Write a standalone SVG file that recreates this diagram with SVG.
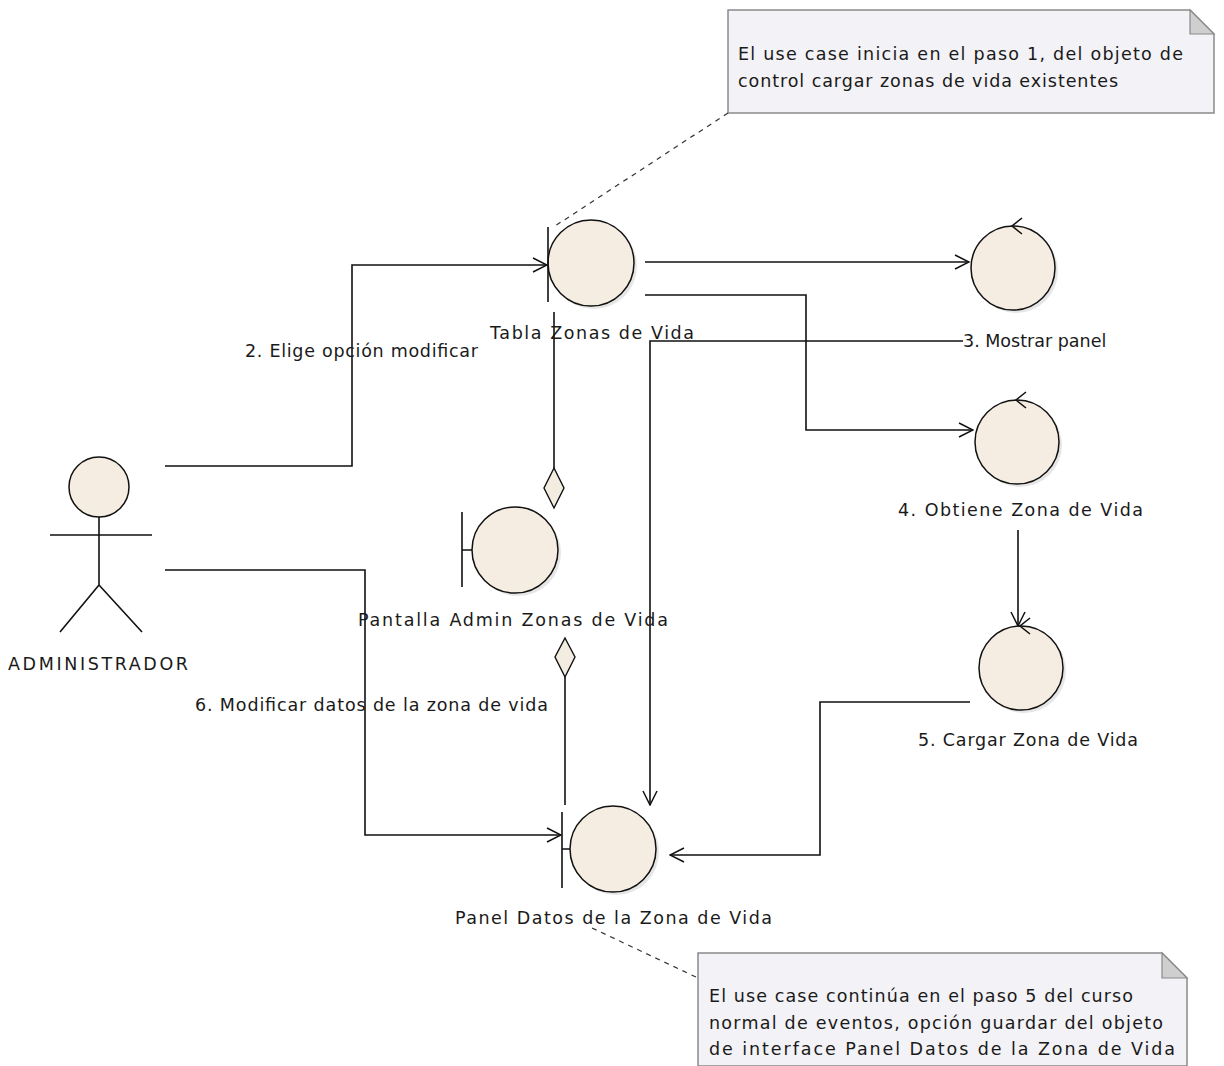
<svg xmlns="http://www.w3.org/2000/svg" width="1224" height="1066" viewBox="0 0 1224 1066">
  <style>
    text { font-family: "DejaVu Sans", "Liberation Sans", sans-serif; font-size: 17.5px; fill: #1a1a1a; }
    .obj { fill: #f6ede2; stroke: #111; stroke-width: 1.5; }
    .shadow { fill: #d6d6d6; opacity: 0.6; }
    .ln { fill: none; stroke: #111; stroke-width: 1.6; }
    .note { fill: #f3f2f6; stroke: #8a8a8a; stroke-width: 1.5; }
    .fold { fill: #cfcfcf; stroke: #8a8a8a; stroke-width: 1.2; }
    .dash { fill: none; stroke: #333; stroke-width: 1.2; stroke-dasharray: 5 5; }
    .agg { fill: #f3ece0; stroke: #111; stroke-width: 1.4; }
  </style>
  <defs>
    <marker id="open" viewBox="0 0 16 16" refX="15" refY="8" markerWidth="16" markerHeight="16" markerUnits="userSpaceOnUse" orient="auto">
      <path d="M1 1 L15 8 L1 15" fill="none" stroke="#111" stroke-width="1.5"/>
    </marker>
  </defs>

  <rect width="1224" height="1066" fill="#ffffff"/>

  <!-- notes -->
  <g id="note-inicio">
    <path class="note" d="M728 10 H1190 L1214 34 V113 H728 Z"/>
    <path class="fold" d="M1190 10 V34 H1214 Z"/>
    <text x="738" y="60" textLength="445" lengthAdjust="spacing">El use case inicia en el paso 1, del objeto de</text>
    <text x="738" y="87" textLength="380" lengthAdjust="spacing">control cargar zonas de vida existentes</text>
  </g>
  <g id="note-continua">
    <path class="note" d="M698 953 H1162 L1187 978 V1066 H698 Z"/>
    <path class="fold" d="M1162 953 V978 H1187 Z"/>
    <text x="709" y="1002" textLength="424" lengthAdjust="spacing">El use case continúa en el paso 5 del curso</text>
    <text x="709" y="1029" textLength="454" lengthAdjust="spacing">normal de eventos, opción guardar del objeto</text>
    <text x="709" y="1055" textLength="466" lengthAdjust="spacing">de interface Panel Datos de la Zona de Vida</text>
  </g>

  <!-- connectors -->
  <g id="connectors">
    <path class="dash" d="M728 113 L555 226"/>
    <path class="dash" d="M592 928 L698 978"/>
    <!-- 2. Elige opción modificar -->
    <path class="ln" d="M165 466 H352 V265 H547" marker-end="url(#open)"/>
    <!-- 6. Modificar datos -->
    <path class="ln" d="M165 570 H365 V835 H561" marker-end="url(#open)"/>
    <!-- Tabla to Mostrar panel -->
    <path class="ln" d="M645 262 H969" marker-end="url(#open)"/>
    <!-- Tabla to Obtiene -->
    <path class="ln" d="M645 295 H806 V430 H973" marker-end="url(#open)"/>
    <!-- Mostrar panel to Panel Datos -->
    <path class="ln" d="M963 341 H650 V805" marker-end="url(#open)"/>
    <!-- Obtiene to Cargar -->
    <path class="ln" d="M1018 530 V626" marker-end="url(#open)"/>
    <!-- Cargar to Panel Datos -->
    <path class="ln" d="M970 702 H820 V855 H670" marker-end="url(#open)"/>
    <!-- aggregations -->
    <path class="ln" d="M554 312 V468"/>
    <path class="agg" d="M554 468 L564 488 L554 508 L544 488 Z"/>
    <path class="ln" d="M565 677 V805"/>
    <path class="agg" d="M565 638 L575 657 L565 677 L555 657 Z"/>
  </g>

  <!-- actor -->
  <g id="administrador">
    <circle class="obj" cx="99" cy="487" r="30"/>
    <path class="ln" d="M99 517 V585 M50 535 H152 M99 585 L60 632 M99 585 L142 632"/>
    <text x="8" y="670" textLength="180" lengthAdjust="spacing">ADMINISTRADOR</text>
  </g>

  <!-- boundary objects -->
  <g id="tabla-zonas">
    <circle class="shadow" cx="594" cy="266" r="43"/>
    <circle class="obj" cx="591" cy="263" r="43"/>
    <path class="ln" d="M548 227 V302"/>
    <text x="490" y="339" textLength="204" lengthAdjust="spacing">Tabla Zonas de Vida</text>
  </g>
  <g id="pantalla-admin">
    <circle class="shadow" cx="518" cy="553" r="43"/>
    <circle class="obj" cx="515" cy="550" r="43"/>
    <path class="ln" d="M462 512 V587 M462 550 H472"/>
    <text x="358" y="626" textLength="310" lengthAdjust="spacing">Pantalla Admin Zonas de Vida</text>
  </g>
  <g id="panel-datos">
    <circle class="shadow" cx="616" cy="852" r="43"/>
    <circle class="obj" cx="613" cy="849" r="43"/>
    <path class="ln" d="M562 812 V888 M562 849 H570"/>
    <text x="455" y="924" textLength="317" lengthAdjust="spacing">Panel Datos de la Zona de Vida</text>
  </g>

  <!-- control objects -->
  <g id="mostrar-panel">
    <circle class="shadow" cx="1016" cy="271" r="42"/>
    <circle class="obj" cx="1013" cy="268" r="42"/>
    <path class="ln" d="M1022 218 L1012 226 L1022 234"/>
    <text x="963" y="347">3. Mostrar panel</text>
  </g>
  <g id="obtiene-zona">
    <circle class="shadow" cx="1020" cy="445" r="42"/>
    <circle class="obj" cx="1017" cy="442" r="42"/>
    <path class="ln" d="M1026 392 L1016 400 L1026 408"/>
    <text x="898" y="516" textLength="245" lengthAdjust="spacing">4. Obtiene Zona de Vida</text>
  </g>
  <g id="cargar-zona">
    <circle class="shadow" cx="1024" cy="671" r="42"/>
    <circle class="obj" cx="1021" cy="668" r="42"/>
    <path class="ln" d="M1030 618 L1020 626 L1030 634"/>
    <text x="918" y="746" textLength="220" lengthAdjust="spacing">5. Cargar Zona de Vida</text>
  </g>

  <!-- message labels -->
  <g id="labels">
    <text x="245" y="357" textLength="233" lengthAdjust="spacing">2. Elige opción modificar</text>
    <text x="195" y="711" textLength="353" lengthAdjust="spacing">6. Modificar datos de la zona de vida</text>
  </g>
</svg>
